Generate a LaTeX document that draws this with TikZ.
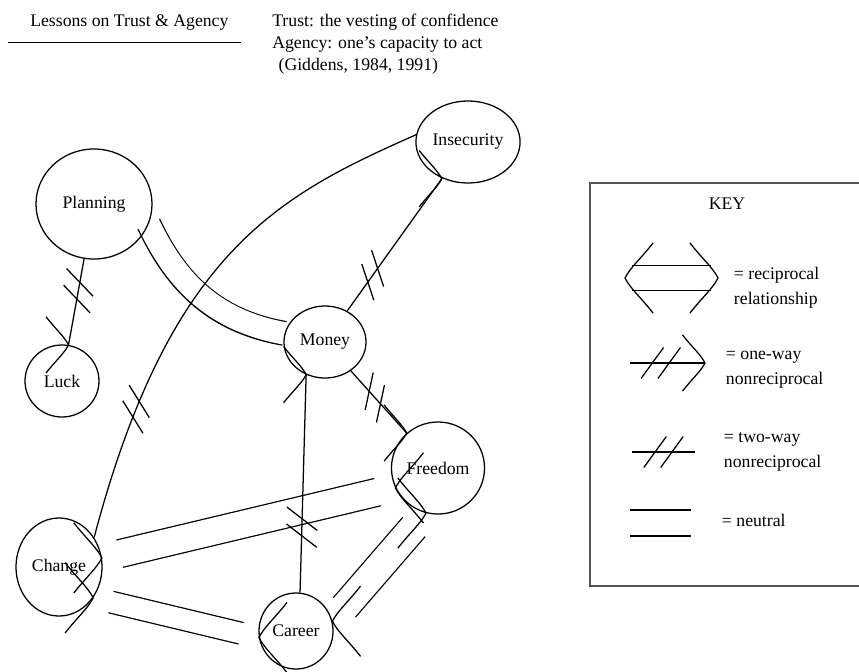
\documentclass[tikz,border=0pt]{standalone}
\usepackage{fontspec}
\setmainfont{Liberation Serif}
\usetikzlibrary{shapes.geometric,decorations.markings,positioning,backgrounds}

\tikzset{
  pics/fork/.style={code={
    \draw[draw=black,line width=0.9pt,shorten <=0pt,shorten >=0pt] (-16pt,20pt) .. controls (-9pt,11pt) and (-3pt,6pt) .. (0,0)
      .. controls (-3pt,-6pt) and (-9pt,-11pt) .. (-16pt,-20pt);
  }},
  link/.style={line width=0.9pt},
  hashes/.style={postaction={decorate,decoration={markings,
    mark=at position #1 with {\draw[link] (-14pt,-11pt) -- (2pt,11pt) (-2pt,-11pt) -- (14pt,11pt);}}}},
  backhashes/.style={postaction={decorate,decoration={markings,
    mark=at position #1 with {\draw[link] (-14pt,11pt) -- (2pt,-11pt) (-2pt,11pt) -- (14pt,-11pt);}}}},
  headend/.style={postaction={decorate,decoration={markings,
    mark=at position 1 with {\pic[scale=#1]{fork};}}}},
  headend/.default=1,
  headstart/.style={postaction={decorate,decoration={markings,
    mark=at position 0 with {\pic[scale=#1,rotate=180]{fork};}}}},
  headstart/.default=1,
  oneway/.style={link,hashes=#1,headend},
  twoway/.style={link,hashes=#1},
  % two parallel strokes: a wide black stroke under a slightly longer white one
  strands/.style 2 args={preaction={draw=black,line width=#1+1.8pt,shorten <=#2,shorten >=#2},
    draw=white,line width=#1,shorten <=#2-1.5pt,shorten >=#2-1.5pt},
  recip/.style 2 args={strands={#1}{#2},headstart=1.25,headend=1.25},
  neutral/.style={strands={#1}{0pt}},
}

\begin{document}
\begin{tikzpicture}[x=0.025cm,y=-0.025cm,font=\fontsize{12.6}{15.6}\selectfont]
  \tikzstyle{concept}=[draw,ellipse,line width=0.9pt,inner sep=1pt]
  \tikzstyle{keytext}=[align=left,font=\fontsize{12.6}{17.8}\selectfont]
  \useasboundingbox (0,0) rectangle (859,671);
  \clip (0,0) rectangle (859,671);

  % heading
  \node[anchor=base west,inner sep=0pt] (title) at (30,26) {Lessons on Trust \& Agency};
  \draw[line width=0.7pt] (8,42) -- (241,42);
  \node[anchor=base west,inner sep=0pt,align=left] (defs) at (272,70)
    {Trust: the vesting of confidence\\Agency: one's capacity to act\\\hspace*{4.5pt}(Giddens, 1984, 1991)};

  % concepts
  \node[concept,minimum width=2.9cm,minimum height=2.75cm] (planning) at (94,204) {Planning};
  \node[concept,minimum width=1.85cm,minimum height=1.8cm] (luck) at (62,381) {Luck};
  \node[concept,minimum width=2.05cm,minimum height=1.8cm] (money) at (325,342) {Money};
  \node[concept,minimum width=2.5cm,minimum height=2.05cm] (insecurity) at (468,142) {Insecurity};
  \node[concept,minimum width=2.25cm,minimum height=2.3cm] (freedom) at (438,468) {Freedom};
  \node[concept,minimum width=2.15cm,minimum height=2.45cm] (change) at (59,567) {Change};
  \node[concept,minimum width=1.85cm,minimum height=1.9cm] (career) at (296,631) {Career};

  % relations
  \begin{scope}[on background layer]
    \draw[neutral=16pt] (planning.-20) to[out=-65,in=170] (money.168);
    \draw[recip={19pt}{13pt}] (freedom.205) -- (change.12);
    \draw[recip={14.7pt}{13pt}] (career.190) -- (change.-42);
    \draw[recip={20pt}{13pt}] (career.15) -- (freedom.-105);
  \end{scope}
  \draw[oneway=0.37] (planning) -- (luck);
  \draw[twoway=0.25] (change.40) .. controls (170,250) and (280,195) .. (insecurity.172);
  \draw[oneway=0.27] (money) -- (insecurity);
  \draw[link,backhashes=0.43,headend] (money) -- (freedom);
  \draw[oneway=0.3] (career.84) -- (money.-120);

  % key
  \node[draw=black!67,line width=1.4pt,minimum width=7.15cm,minimum height=10.08cm,anchor=north west] (keybox) at (589,182) {};
  \node[anchor=base] (keytitle) at (727,209) {KEY};
  \coordinate (r1) at (625,278);
  \coordinate (r2) at (718,278);
  \draw[recip={17pt}{5pt}] (r1) -- (r2);
  \node[keytext,right=0.275cm of r2,yshift=-7pt] (rtext) {= reciprocal\\relationship};
  \coordinate (o1) at (630,363);
  \coordinate (o2) at (705,363);
  \draw[oneway=0.41] (o1) -- (o2);
  \node[keytext,right=0.4cm of o2,yshift=-4.6pt] (otext) {= one-way\\nonreciprocal};
  \coordinate (t1) at (632,452);
  \coordinate (t2) at (695,452);
  \draw[twoway=0.5] (t1) -- (t2);
  \node[keytext,right=0.6cm of t2] (ttext) {= two-way\\nonreciprocal};
  \coordinate (n1) at (630,523);
  \coordinate (n2) at (691,523);
  \draw[neutral=17.6pt] (n1) -- (n2);
  \node[keytext,right=0.65cm of n2,yshift=2pt] (ntext) {= neutral};
\end{tikzpicture}
\end{document}
